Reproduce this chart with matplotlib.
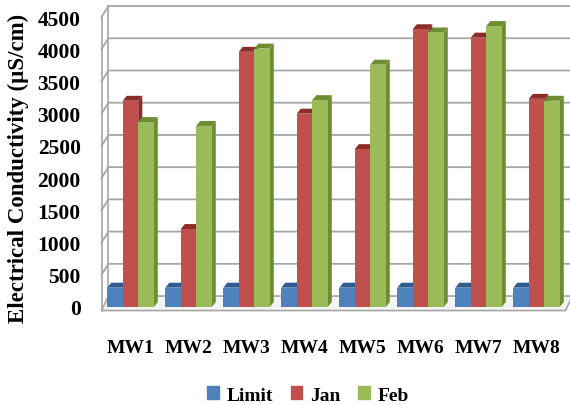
import matplotlib.pyplot as plt
from matplotlib.patches import Polygon
import numpy as np

wells = ["MW1", "MW2", "MW3", "MW4", "MW5", "MW6", "MW7", "MW8"]
limit = [300, 300, 300, 300, 300, 300, 300, 300]
jan = [3200, 1210, 3960, 3000, 2450, 4310, 4180, 3230]
feb = [2870, 2810, 4010, 3210, 3760, 4260, 4360, 3200]

series = [("Limit", limit, "#4F81BD", "#2E5C93"),
          ("Jan", jan, "#C0504D", "#8C2D2A"),
          ("Feb", feb, "#9BBB59", "#6E8C32")]

plt.rcParams['font.family'] = ['Liberation Serif', 'DejaVu Serif']
plt.rcParams['font.weight'] = 'bold'

fig = plt.figure(figsize=(5.7, 4.06), dpi=100)
ax = fig.add_axes([101.5 / 570, (406 - 308) / 406, 464 / 570, 290 / 406])
ax.set_xlim(-0.5, 7.5)
ax.set_ylim(0, 4500)

# pseudo-3D offsets (data units)
wdx, wdy = 0.12, 170   # back wall
bdx, bdy = 0.07, 77    # bar depth
fl = -55               # floor front edge
w = 0.267

grid_c = "#A6A6A6"
# floor
ax.add_patch(Polygon([(-0.5, fl), (7.5, fl), (7.5 + wdx, wdy), (-0.5 + wdx, wdy)],
                     closed=True, facecolor="#F4F4F4", edgecolor=grid_c, lw=1.2,
                     clip_on=False, zorder=1))
# back wall gridlines + left wall
for v in range(500, 4501, 500):
    ax.plot([-0.5, -0.5 + wdx, 7.5 + wdx + 0.1], [v, v + wdy, v + wdy],
            color=grid_c, lw=1.3, clip_on=False, zorder=1)
ax.plot([-0.5, -0.5], [fl, 4500], color=grid_c, lw=1.2, clip_on=False, zorder=1)
ax.plot([-0.5 + wdx, -0.5 + wdx], [wdy, 4500 + wdy], color=grid_c, lw=1.2,
        clip_on=False, zorder=1)

x = np.arange(len(wells))
z = 2
for i in range(len(wells)):
    for j, (name, vals, col, dark) in enumerate(series):
        x0 = x[i] + (j - 1) * w - w / 2
        v = vals[i]
        ax.bar(x0, v, width=w, align='edge', color=col, zorder=z + 2)
        ax.add_patch(Polygon([(x0 + w, 0), (x0 + w + bdx, bdy), (x0 + w + bdx, v + bdy), (x0 + w, v)],
                             closed=True, facecolor=dark, edgecolor='none', zorder=z + 1))
        ax.add_patch(Polygon([(x0, v), (x0 + w, v), (x0 + w + bdx, v + bdy), (x0 + bdx, v + bdy)],
                             closed=True, facecolor=dark, edgecolor='none', zorder=z + 1))
        z += 3

for s in ax.spines.values():
    s.set_visible(False)
ax.set_xticks(x, wells)
ax.set_yticks(range(0, 4501, 500))
ax.tick_params(axis='x', length=0, pad=23, labelsize=14)
ax.tick_params(axis='y', length=0, pad=15, labelsize=15.5)

fig.text(18 / 570, 1 - 168 / 406, "Electrical Conductivity (µS/cm)", rotation=90,
         ha='center', va='center', fontsize=16.5, fontweight='bold')

handles = [plt.Rectangle((0, 0), 1, 1, color=c) for _, _, c, _ in series]
fig.legend(handles, [s[0] for s in series], loc='center', ncol=3, frameon=False,
           bbox_to_anchor=(308 / 570, 1 - 396 / 406), handlelength=0.6, handleheight=0.6,
           handletextpad=0.4, columnspacing=0.9, fontsize=14)

fig.savefig("out.png", dpi=100)
